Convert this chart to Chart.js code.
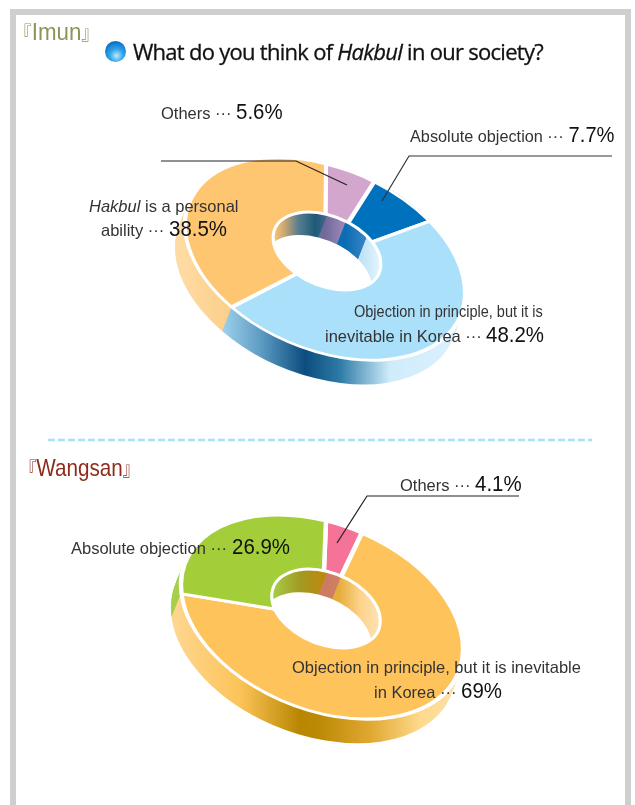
<!DOCTYPE html>
<html>
<head>
<meta charset="utf-8">
<script src="https://cdn.jsdelivr.net/npm/chart.js@4/dist/chart.umd.min.js"></script>
<style>
  html, body { margin: 0; padding: 0; background: #fff; width: 635px; height: 805px; overflow: hidden; }
  #page { position: relative; width: 635px; height: 805px; overflow: hidden; font-family: "Liberation Sans", sans-serif; color: #333; }
  #frame { position: absolute; left: 10px; top: 9px; width: 609px; height: 900px; border: 6px solid #cfcfcf; }
  canvas { position: absolute; left: 0; }
  svg { position: absolute; left: 0; top: 0; }
  .t { position: absolute; white-space: nowrap; font-size: 16.5px; line-height: 20px; transform-origin: left center; }
  .t b { display: inline-block; font-weight: normal; font-size: 22px; color: #111; transform: scaleX(0.93); transform-origin: left center; }
  .school { position: absolute; white-space: nowrap; font-size: 24px; line-height: 30px; font-family: "Liberation Sans", sans-serif; transform-origin: left center; }
  .school i { font-style: normal; font-family: "Noto Sans CJK KR"; font-size: 19px; }
  #title { position: absolute; left: 133px; top: 36px; white-space: nowrap; font-family: "Open Sans", sans-serif; font-size: 22px; line-height: 30px; letter-spacing: -0.72px; color: #111; -webkit-text-stroke: 0.3px #111; }
  #bullet { position: absolute; left: 105px; top: 41px; width: 21px; height: 21px; border-radius: 50%;
    background: radial-gradient(circle at 55% 70%, #bfeaff 0%, #35a5ea 35%, #0a70c8 75%, #075aa8 100%); }
</style>
</head>
<body>
<div id="page">
  <div id="frame"></div>
  <canvas id="imunChart" width="635" height="280" style="top:130px"></canvas>
  <canvas id="wangsanChart" width="635" height="260" style="top:490px"></canvas>
  <svg width="635" height="805">
    <polyline points="161,161 296,161 347,185" fill="none" stroke="#222" stroke-width="1.2"/>
    <polyline points="612,156 409,156 382,201" fill="none" stroke="#333" stroke-width="1.2"/>
    <polyline points="519,496 367,496 337,543" fill="none" stroke="#222" stroke-width="1.2"/>
    <line x1="48" y1="440" x2="592" y2="440" stroke="#a9dff8" stroke-width="2.5" stroke-dasharray="7 3"/>
  </svg>

  <div class="school" style="left:14px;top:17px;color:#8b9557;transform:scaleX(0.93)"><i>『</i>Imun<i>』</i></div>
  <div id="bullet"></div>
  <div id="title">What do you think of <em>Hakbul</em> in our society?</div>

  <div class="t" style="left:161px;top:102px">Others ··· <b>5.6%</b></div>
  <div class="t" style="left:410px;top:125px;transform:scaleX(0.985)">Absolute objection ··· <b>7.7%</b></div>
  <div class="t" style="left:89px;top:196px"><em>Hakbul</em> is a personal</div>
  <div class="t" style="left:101px;top:219px">ability ··· <b>38.5%</b></div>
  <div class="t" style="left:354px;top:301px;transform:scaleX(0.88)">Objection in principle, but it is</div>
  <div class="t" style="left:325px;top:325px">inevitable in Korea ··· <b>48.2%</b></div>

  <div class="school" style="left:20px;top:453px;color:#8f2a1c;transform:scaleX(0.86)"><i>『</i>Wangsan<i>』</i></div>
  <div class="t" style="left:400px;top:474px">Others ··· <b>4.1%</b></div>
  <div class="t" style="left:71px;top:537px">Absolute objection ··· <b>26.9%</b></div>
  <div class="t" style="left:292px;top:657px">Objection in principle, but it is inevitable</div>
  <div class="t" style="left:374px;top:681px">in Korea ··· <b>69%</b></div>
</div>

<script>
// Imun
const imunLabels = ['Others', 'Absolute objection', 'Objection in principle', 'Hakbul is a personal ability'];
const imunValues = [5.6, 7.7, 48.2, 38.5];
const imunColors = ['#D3A6CE', '#0071BC', '#AAE0FA', '#FFC671'];

// Wangsan
const wangsanLabels = ['Others', 'Objection in principle', 'Absolute objection'];
const wangsanValues = [4.1, 69, 26.9];
const wangsanColors = ['#F47396', '#FFC35C', '#A3CE39'];

// shading of the side and hole walls, [page x, colour] per slice
const imunSide = [
  [[170, '#D3A6CE'], [460, '#D3A6CE']],
  [[170, '#0071BC'], [460, '#0071BC']],
  [[217, '#a8d8f0'], [260, '#5f9dc4'], [305, '#0b4d7e'], [340, '#2e7ba6'], [390, '#cfecfb'], [445, '#d9f0fc']],
  [[175, '#ffdca6'], [225, '#fdd08c']]
];
const imunWall = [
  [[325, '#6e6a9a'], [346, '#a08cb8']],
  [[345, '#0a6cb2'], [368, '#3f86c8']],
  [[362, '#c0e3f8'], [382, '#eaf6fd']],
  [[274, '#f9c878'], [285, '#c7a470'], [298, '#5a7f90'], [315, '#1d5a78'], [328, '#4b6690']]
];
const wangsanSide = [
  [[170, '#F47396'], [460, '#F47396']],
  [[175, '#ffd690'], [240, '#fcc458'], [300, '#b98600'], [320, '#bd8a06'], [370, '#e0a830'], [420, '#ffd98c'], [455, '#fce0a8']],
  [[175, '#a6cf4a'], [190, '#a6cf4a']]
];
const wangsanWall = [
  [[325, '#cc7a60'], [340, '#d08068']],
  [[338, '#e6ac38'], [360, '#fdd28a'], [381, '#ffe4b8']],
  [[272, '#a6cf4a'], [300, '#a29a22'], [322, '#ba8a10']]
];

// tilts the flat doughnut into the 3D disc of the picture
function tiltPlugin(geo) {
  const layers = 26;
  let mat;

  function gradient(ctx, stops) {
    const x0 = stops[0][0], x1 = stops[stops.length - 1][0];
    const g = ctx.createLinearGradient(x0, 0, x1, 0);
    stops.forEach(s => g.addColorStop((s[0] - x0) / (x1 - x0), s[1]));
    return g;
  }

  function tracePath(ctx, a, r, start, end, dx, dy) {
    ctx.save();
    ctx.translate(dx, dy);
    ctx.transform(mat[0], mat[1], mat[2], mat[3], mat[4], mat[5]);
    ctx.beginPath();
    ctx.arc(a.x, a.y, r, start, end);
    ctx.restore();
  }

  function walls(ctx, arcs, ratio, stops, ox, oy) {
    for (let i = layers; i >= 0; i--) {
      const f = i / layers;
      arcs.forEach((a, k) => {
        tracePath(ctx, a, a.outerRadius * ratio, a.startAngle, a.endAngle, ox + geo.depth[0] * f, oy + geo.depth[1] * f);
        ctx.strokeStyle = gradient(ctx, stops[k]);
        ctx.lineWidth = 2.2;
        ctx.stroke();
      });
    }
  }

  return {
    id: 'tilt',
    beforeDatasetsDraw(chart) {
      const ctx = chart.ctx;
      const arcs = chart.getDatasetMeta(0).data;
      const a0 = arcs[0], R = a0.outerRadius;
      const a = geo.u[0] / R, b = geo.u[1] / R, c = -geo.v[0] / R, d = -geo.v[1] / R;
      const e = geo.center[0] - a * a0.x - c * a0.y;
      const f = geo.center[1] - b * a0.x - d * a0.y;
      mat = [a, b, c, d, e, f];
      walls(ctx, arcs, 1, geo.side, 0, 0);
      ctx.save();
      ctx.transform(a, b, c, d, e, f);
    },
    afterDatasetsDraw(chart) {
      const ctx = chart.ctx;
      ctx.restore();
      const arcs = chart.getDatasetMeta(0).data;
      const a0 = arcs[0], r = a0.outerRadius * geo.holeRatio;
      const ox = geo.hole[0] - geo.center[0], oy = geo.hole[1] - geo.center[1];

      ctx.save();
      tracePath(ctx, a0, r, 0, Math.PI * 2, ox, oy);
      ctx.fillStyle = '#fff';
      ctx.fill();
      ctx.clip();
      walls(ctx, arcs, geo.holeRatio, geo.wall, ox, oy);
      tracePath(ctx, a0, r, 0, Math.PI * 2, ox + geo.depth[0], oy + geo.depth[1]);
      ctx.fillStyle = '#fff';
      ctx.fill();
      ctx.restore();

      tracePath(ctx, a0, r, 0, Math.PI * 2, ox, oy);
      ctx.strokeStyle = '#fff';
      ctx.lineWidth = 3;
      ctx.stroke();
    }
  };
}

function makeDisc(id, labels, values, colors, geo) {
  return new Chart(document.getElementById(id), {
    type: 'doughnut',
    data: {
      labels: labels,
      datasets: [{
        data: values,
        backgroundColor: colors,
        borderColor: '#fff',
        borderWidth: 4,
        clip: false
      }]
    },
    plugins: [tiltPlugin(geo)],
    options: {
      responsive: false,
      animation: false,
      cutout: '25%',
      events: [],
      layout: { padding: 0 },
      plugins: { legend: { display: false }, tooltip: { enabled: false } }
    }
  });
}

makeDisc('imunChart', imunLabels, imunValues, imunColors, {
  center: [325, 259 - 130], u: [140, 35], v: [1, -95],
  hole: [327, 251 - 130], holeRatio: 0.385, depth: [-9, 23],
  side: imunSide, wall: imunWall
});

makeDisc('wangsanChart', wangsanLabels, wangsanValues, wangsanColors, {
  center: [322, 617 - 490], u: [141, 35], v: [4, -96],
  hole: [326, 608.5 - 490], holeRatio: 0.385, depth: [-9, 23],
  side: wangsanSide, wall: wangsanWall
});
</script>
</body>
</html>
